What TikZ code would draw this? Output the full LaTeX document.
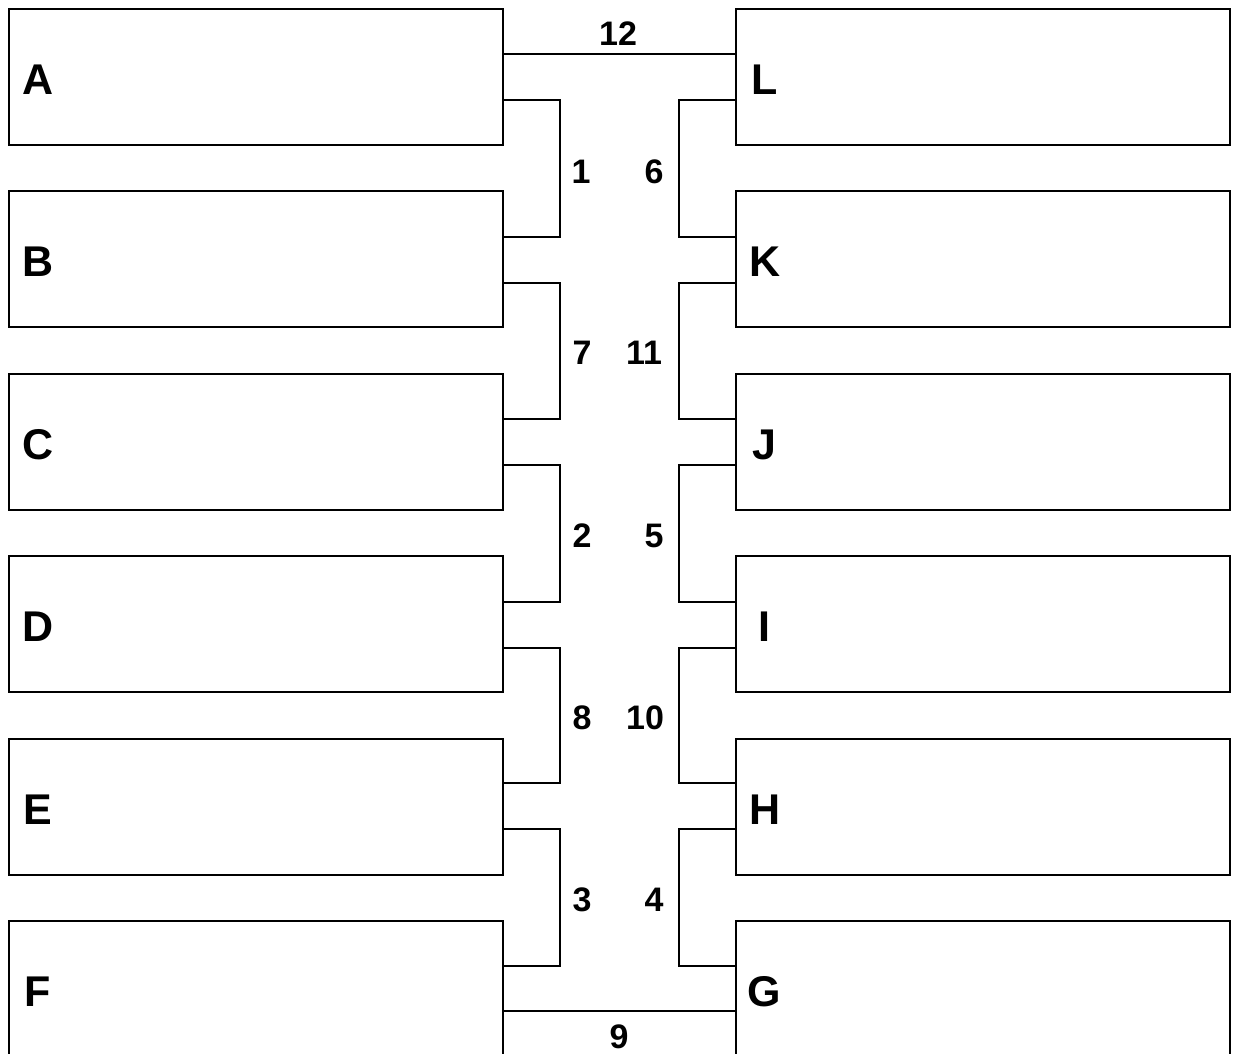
\documentclass[tikz,border=0pt]{standalone}
\usepackage{fontspec}
\setmainfont{Liberation Sans}
\usetikzlibrary{calc}

\tikzset{
  team/.style={draw,line width=2.6pt,minimum width=494pt,minimum height=136pt},
  tag/.style={font=\fontsize{43}{43}\selectfont\bfseries,inner sep=0pt},
  link/.style={line width=2pt},
  game/.style={font=\fontsize{34}{34}\selectfont\bfseries,inner sep=0pt}
}

\begin{document}
\begin{tikzpicture}[x=1pt,y=-1pt]
\useasboundingbox (0,0) rectangle (1234,1054);
% left column
\node[team] (A) at (256,77) {};
\node[team] (B) at (256,259) {};
\node[team] (C) at (256,442) {};
\node[team] (D) at (256,624) {};
\node[team] (E) at (256,807) {};
\node[team] (F) at (256,989) {};
% right column
\node[team] (L) at (983,77) {};
\node[team] (K) at (983,259) {};
\node[team] (J) at (983,442) {};
\node[team] (I) at (983,624) {};
\node[team] (H) at (983,807) {};
\node[team] (G) at (983,989) {};
% team letters
\foreach \t in {A,B,C,D,E,F,G,H,I,J,K,L}
  \node[tag] at ($(\t.west)+(30,3)$) {\t};
% top and bottom
\draw[link] ($(A.east)+(0,-23)$) -- ($(L.west)+(0,-23)$);
\draw[link] ($(F.east)+(0,22)$) -- ($(G.west)+(0,22)$);
\node[game] at (618,34) {12};
\node[game] at (619,1037) {9};
% left brackets
\draw[link] ($(A.east)+(0,23)$) -| ($(B.east)+(56,-22)$) -- ($(B.east)+(0,-22)$);
\draw[link] ($(B.east)+(0,24)$) -| ($(C.east)+(56,-23)$) -- ($(C.east)+(0,-23)$);
\draw[link] ($(C.east)+(0,23)$) -| ($(D.east)+(56,-22)$) -- ($(D.east)+(0,-22)$);
\draw[link] ($(D.east)+(0,24)$) -| ($(E.east)+(56,-24)$) -- ($(E.east)+(0,-24)$);
\draw[link] ($(E.east)+(0,22)$) -| ($(F.east)+(56,-23)$) -- ($(F.east)+(0,-23)$);
% right brackets
\draw[link] ($(L.west)+(0,23)$) -| ($(K.west)+(-56,-22)$) -- ($(K.west)+(0,-22)$);
\draw[link] ($(K.west)+(0,24)$) -| ($(J.west)+(-56,-23)$) -- ($(J.west)+(0,-23)$);
\draw[link] ($(J.west)+(0,23)$) -| ($(I.west)+(-56,-22)$) -- ($(I.west)+(0,-22)$);
\draw[link] ($(I.west)+(0,24)$) -| ($(H.west)+(-56,-24)$) -- ($(H.west)+(0,-24)$);
\draw[link] ($(H.west)+(0,22)$) -| ($(G.west)+(-56,-23)$) -- ($(G.west)+(0,-23)$);
% game numbers
\node[game] at (581,172) {1};
\node[game] at (654,172) {6};
\node[game] at (582,353) {7};
\node[game] at (644,353) {11};
\node[game] at (582,536) {2};
\node[game] at (654,536) {5};
\node[game] at (582,718) {8};
\node[game] at (645,718) {10};
\node[game] at (582,900) {3};
\node[game] at (654,900) {4};
\end{tikzpicture}
\end{document}
